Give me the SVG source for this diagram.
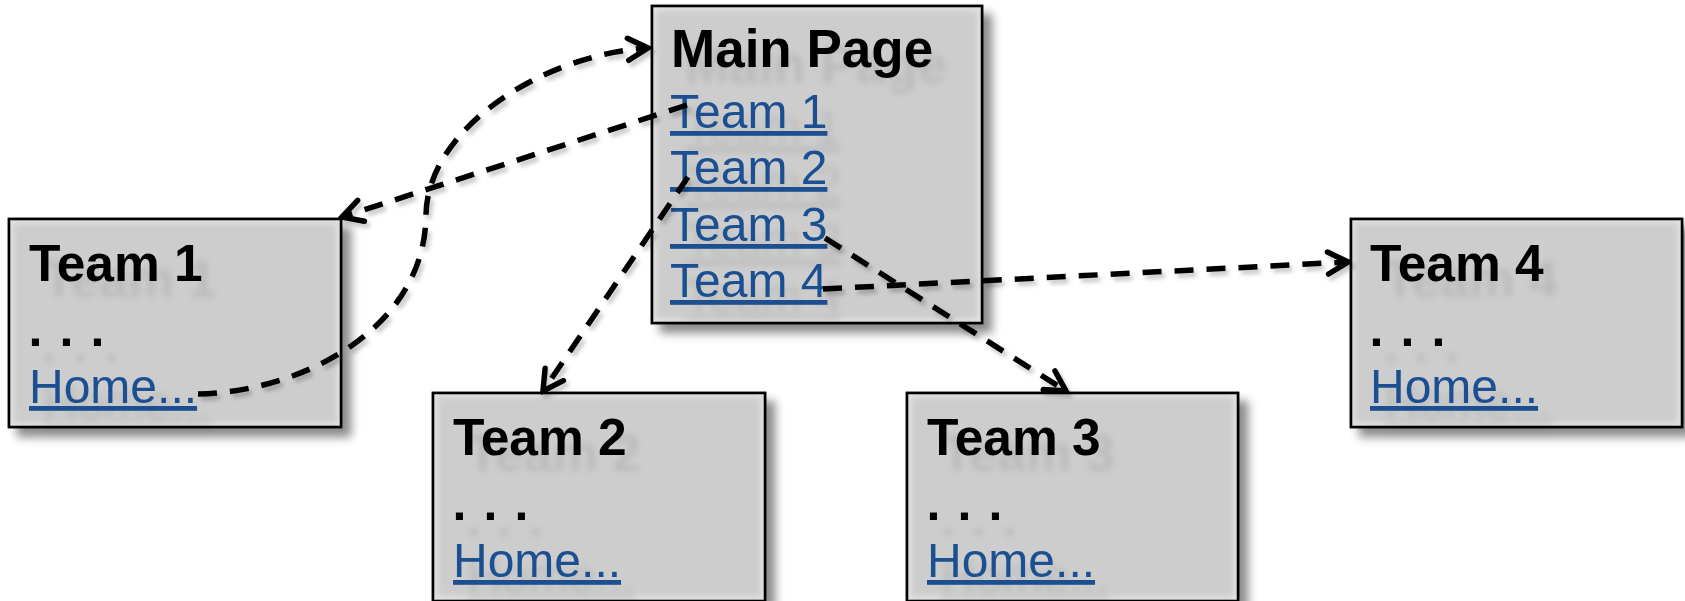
<svg xmlns="http://www.w3.org/2000/svg" width="1685" height="601" viewBox="0 0 1685 601">
  <style>
    .box { fill: #cdcdcd; stroke: #000; stroke-width: 2.5; }
    .glow { fill: none; stroke: #e4e4e4; stroke-width: 8; }
    .title { font-family: "Liberation Sans", Arial, sans-serif; font-weight: bold; font-size: 51.5px; fill: #000; }
    .main-title { font-size: 53px; }
    .dots { font-family: "Liberation Sans", Arial, sans-serif; font-weight: bold; font-size: 50px; fill: #000; letter-spacing: 1.6px; }
    .link { font-family: "Liberation Sans", Arial, sans-serif; font-size: 48px; fill: #1a5091; text-decoration: underline; }
    .edge { fill: none; stroke: #000; stroke-width: 5.5; stroke-dasharray: 19 13; }
  </style>
  <defs>
    <filter id="boxShadow" x="-10%" y="-10%" width="125%" height="130%">
      <feDropShadow dx="9" dy="9" stdDeviation="5" flood-color="#000" flood-opacity="0.45"/>
    </filter>
    <filter id="innerBlur" x="-5%" y="-5%" width="110%" height="110%">
      <feGaussianBlur stdDeviation="3"/>
    </filter>
    <filter id="textShadow" x="-10%" y="-30%" width="130%" height="180%">
      <feGaussianBlur in="SourceAlpha" stdDeviation="3.2" result="b"/>
      <feOffset in="b" dx="14" dy="16" result="o"/>
      <feFlood flood-color="#000" flood-opacity="0.09"/>
      <feComposite in2="o" operator="in" result="s"/>
      <feMerge><feMergeNode in="s"/><feMergeNode in="SourceGraphic"/></feMerge>
    </filter>
    <filter id="lineShadow" x="-10%" y="-10%" width="120%" height="120%">
      <feDropShadow dx="3" dy="4" stdDeviation="2" flood-color="#000" flood-opacity="0.22"/>
    </filter>
    <marker id="arrow" markerUnits="userSpaceOnUse" viewBox="-24 -15 28 30" refX="0" refY="0" markerWidth="28" markerHeight="30" orient="auto">
      <path d="M-20,-11 L0,0 L-20,11" fill="none" stroke="#000" stroke-width="5.5" stroke-linecap="round" stroke-linejoin="miter" stroke-dasharray="none"/>
    </marker>
    <clipPath id="clipMain"><rect x="652" y="6" width="330" height="317"/></clipPath>
    <clipPath id="clipT1"><rect x="9" y="219" width="332" height="208"/></clipPath>
    <clipPath id="clipT2"><rect x="433" y="393" width="332" height="208"/></clipPath>
    <clipPath id="clipT3"><rect x="907" y="393" width="331" height="208"/></clipPath>
    <clipPath id="clipT4"><rect x="1351" y="219" width="331" height="208"/></clipPath>
  </defs>

  <rect width="1685" height="601" fill="#fff"/>

  <!-- Main page -->
  <g id="main-page">
    <rect class="box" x="652" y="6" width="330" height="317" filter="url(#boxShadow)"/>
    <g clip-path="url(#clipMain)"><rect class="glow" x="652" y="6" width="330" height="317" filter="url(#innerBlur)"/></g>
    <rect x="652" y="6" width="330" height="317" fill="none" stroke="#000" stroke-width="2.5"/>
    <g filter="url(#textShadow)">
      <text class="title main-title" x="671" y="67">Main Page</text>
      <text class="link" x="670" y="128">Team 1</text>
      <text class="link" x="670" y="184">Team 2</text>
      <text class="link" x="670" y="241">Team 3</text>
      <text class="link" x="670" y="297">Team 4</text>
    </g>
  </g>

  <!-- Team 1 -->
  <g id="team-1">
    <rect class="box" x="9" y="219" width="332" height="208" filter="url(#boxShadow)"/>
    <g clip-path="url(#clipT1)"><rect class="glow" x="9" y="219" width="332" height="208" filter="url(#innerBlur)"/></g>
    <rect x="9" y="219" width="332" height="208" fill="none" stroke="#000" stroke-width="2.5"/>
    <g filter="url(#textShadow)">
      <text class="title" x="29" y="281">Team 1</text>
      <text class="dots" x="28.5" y="346">. . .</text>
      <text class="link" x="29" y="403">Home...</text>
    </g>
  </g>

  <!-- Team 2 -->
  <g id="team-2">
    <rect class="box" x="433" y="393" width="332" height="208" filter="url(#boxShadow)"/>
    <g clip-path="url(#clipT2)"><rect class="glow" x="433" y="393" width="332" height="208" filter="url(#innerBlur)"/></g>
    <rect x="433" y="393" width="332" height="208" fill="none" stroke="#000" stroke-width="2.5"/>
    <g filter="url(#textShadow)">
      <text class="title" x="453" y="455">Team 2</text>
      <text class="dots" x="452.5" y="520">. . .</text>
      <text class="link" x="453" y="577">Home...</text>
    </g>
  </g>

  <!-- Team 3 -->
  <g id="team-3">
    <rect class="box" x="907" y="393" width="331" height="208" filter="url(#boxShadow)"/>
    <g clip-path="url(#clipT3)"><rect class="glow" x="907" y="393" width="331" height="208" filter="url(#innerBlur)"/></g>
    <rect x="907" y="393" width="331" height="208" fill="none" stroke="#000" stroke-width="2.5"/>
    <g filter="url(#textShadow)">
      <text class="title" x="927" y="455">Team 3</text>
      <text class="dots" x="926.5" y="520">. . .</text>
      <text class="link" x="927" y="577">Home...</text>
    </g>
  </g>

  <!-- Team 4 -->
  <g id="team-4">
    <rect class="box" x="1351" y="219" width="331" height="208" filter="url(#boxShadow)"/>
    <g clip-path="url(#clipT4)"><rect class="glow" x="1351" y="219" width="331" height="208" filter="url(#innerBlur)"/></g>
    <rect x="1351" y="219" width="331" height="208" fill="none" stroke="#000" stroke-width="2.5"/>
    <g filter="url(#textShadow)">
      <text class="title" x="1370" y="281">Team 4</text>
      <text class="dots" x="1369.5" y="346">. . .</text>
      <text class="link" x="1370" y="403">Home...</text>
    </g>
  </g>

  <!-- Links between pages -->
  <g id="connectors" filter="url(#lineShadow)">
    <path class="edge" d="M198,394 C300,392 425,330 426,215 C427,130 540,55 648,48" marker-end="url(#arrow)"/>
    <path class="edge" d="M687,105 L342,217" marker-end="url(#arrow)"/>
    <path class="edge" d="M688,177 L543,391" marker-end="url(#arrow)"/>
    <path class="edge" d="M825,238 L1066,391" marker-end="url(#arrow)"/>
    <path class="edge" d="M823,289 L1348,262" marker-end="url(#arrow)"/>
  </g>
</svg>
